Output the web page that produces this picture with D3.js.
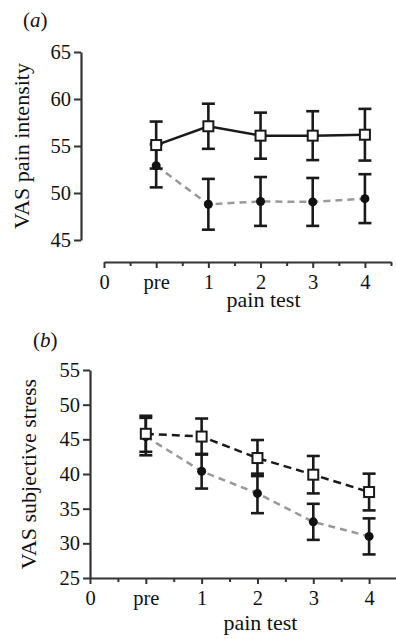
<!DOCTYPE html>
<html>
<head>
<meta charset="utf-8">
<script src="https://cdn.jsdelivr.net/npm/d3@7"></script>
<style>
  body { margin: 0; background: #fff; }
</style>
</head>
<body>
<script>
//Width and height
var w = 396;
var h = 639;
var serif = "'Liberation Serif', 'Times New Roman', Times, serif";

//Tick labels along the x axis (0, pre, then pain tests 1-4)
var xLabels = ["0", "pre", "1", "2", "3", "4"];
var xPos = [1, 2, 3, 4, 5];   // positions of pre,1,2,3,4 on the x scale

//Panel (a): VAS pain intensity
var aSquareMean = [55.1, 57.1, 56.1, 56.1, 56.2];
var aSquareErr  = [2.5, 2.4, 2.45, 2.6, 2.75];
var aCircleMean = [52.9, 48.8, 49.1, 49.05, 49.4];
var aCircleErr  = [2.3, 2.7, 2.6, 2.55, 2.6];
var aTicks = [45, 50, 55, 60, 65];

//Panel (b): VAS subjective stress
var bSquareMean = [45.8, 45.4, 42.3, 39.9, 37.4];
var bSquareErr  = [2.6, 2.6, 2.6, 2.7, 2.65];
var bCircleMean = [45.4, 40.4, 37.2, 33.1, 31.0];
var bCircleErr  = [2.7, 2.5, 2.85, 2.6, 2.6];
var bTicks = [25, 30, 35, 40, 45, 50, 55];

var svg = d3.select("body")
            .append("svg")
            .attr("width", w)
            .attr("height", h)
            .attr("font-family", serif);

function panel(opt) {
    var x = d3.scaleLinear().domain([0, 5.5]).range(opt.xRange);
    var y = d3.scaleLinear().domain(opt.yDomain).range(opt.yRange);
    var g = svg.append("g");

    //y axis
    var yAxis = d3.axisLeft(y).tickValues(opt.yTicks).tickSize(7).tickPadding(3).tickSizeOuter(0);
    var ya = g.append("g").attr("transform", "translate(" + opt.yAxisX + ",0)").call(yAxis)
              .attr("font-family", serif).attr("font-size", 20.5);
    ya.select(".domain").attr("stroke", "#333").attr("stroke-width", 2.2);
    ya.selectAll(".tick line").attr("stroke", "#333").attr("stroke-width", 2);
    ya.selectAll(".tick text").attr("fill", "#111");

    //x axis (major labelled ticks + minor ticks)
    var xAxis = d3.axisBottom(x).tickValues(d3.range(0, 6, 1)).tickSize(6).tickPadding(6).tickSizeOuter(0)
                  .tickFormat(function(d, i) { return xLabels[i]; });
    var xa = g.append("g").attr("transform", "translate(0," + opt.xAxisY + ")").call(xAxis)
              .attr("font-family", serif).attr("font-size", 20.5);
    xa.select(".domain").attr("stroke", "#333").attr("stroke-width", 2.2);
    xa.selectAll(".tick line").attr("stroke", "#333").attr("stroke-width", 2);
    xa.selectAll(".tick text").attr("fill", "#111");
    var xMinor = d3.axisBottom(x).tickValues(d3.range(0.5, 6, 1)).tickSize(4).tickFormat("");
    var xm = g.append("g").attr("transform", "translate(0," + opt.xAxisY + ")").call(xMinor);
    xm.select(".domain").remove();
    xm.selectAll(".tick line").attr("stroke", "#333").attr("stroke-width", 2);

    //axis titles
    g.append("text")
     .attr("transform", "translate(" + opt.yTitleX + "," + d3.mean(opt.yRange) + ") rotate(-90)")
     .attr("text-anchor", "middle")
     .attr("font-size", 22).attr("fill", "#111")
     .text(opt.yTitle);
    g.append("text")
     .attr("x", x(3) + 3).attr("y", opt.xTitleY)
     .attr("text-anchor", "middle")
     .attr("font-size", 22).attr("fill", "#111")
     .text("pain test");
    var lab = g.append("text").attr("x", opt.labelX).attr("y", opt.labelY)
               .attr("font-size", 21).attr("fill", "#111");
    lab.append("tspan").text("(");
    lab.append("tspan").attr("font-style", "italic").text(opt.label);
    lab.append("tspan").text(")");

    var circ = xPos.map(function(p, i) { return { x: p, m: opt.cMean[i], e: opt.cErr[i] }; });
    var sq = xPos.map(function(p, i) { return { x: p, m: opt.sMean[i], e: opt.sErr[i] }; });
    var line = d3.line().x(function(d) { return x(d.x); }).y(function(d) { return y(d.m); });

    //connecting lines
    g.append("path").datum(circ).attr("d", line)
     .attr("fill", "none").attr("stroke", "#999").attr("stroke-width", 2.5)
     .attr("stroke-dasharray", "7,5");
    g.append("path").datum(sq).attr("d", line)
     .attr("fill", "none").attr("stroke", "#1a1a1a").attr("stroke-width", 2.5)
     .attr("stroke-dasharray", opt.squareDash);

    //error bars
    function bars(data) {
        var eb = g.append("g").selectAll("g").data(data).enter().append("g")
                  .attr("stroke", "#1a1a1a").attr("stroke-width", 2.6);
        eb.append("line")
          .attr("x1", function(d) { return x(d.x); }).attr("x2", function(d) { return x(d.x); })
          .attr("y1", function(d) { return y(d.m + d.e); }).attr("y2", function(d) { return y(d.m - d.e); });
        eb.append("line")
          .attr("x1", function(d) { return x(d.x) - 6.5; }).attr("x2", function(d) { return x(d.x) + 6.5; })
          .attr("y1", function(d) { return y(d.m + d.e); }).attr("y2", function(d) { return y(d.m + d.e); });
        eb.append("line")
          .attr("x1", function(d) { return x(d.x) - 6.5; }).attr("x2", function(d) { return x(d.x) + 6.5; })
          .attr("y1", function(d) { return y(d.m - d.e); }).attr("y2", function(d) { return y(d.m - d.e); });
    }
    bars(circ);
    bars(sq);

    //markers
    g.append("g").selectAll("circle").data(circ).enter().append("circle")
     .attr("cx", function(d) { return x(d.x); })
     .attr("cy", function(d) { return y(d.m); })
     .attr("r", 4.5).attr("fill", "#111");
    g.append("g").selectAll("rect").data(sq).enter().append("rect")
     .attr("x", function(d) { return x(d.x) - 5; })
     .attr("y", function(d) { return y(d.m) - 5; })
     .attr("width", 10).attr("height", 10)
     .attr("fill", "#fff").attr("stroke", "#1a1a1a").attr("stroke-width", 2);
}

panel({
    xRange: [104, 391], yDomain: [45, 65], yRange: [240, 52], yTicks: aTicks,
    yAxisX: 81, xAxisY: 262, yTitleX: 29, xTitleY: 307, yTitle: "VAS pain intensity",
    label: "a", labelX: 23, labelY: 27,
    sMean: aSquareMean, sErr: aSquareErr, cMean: aCircleMean, cErr: aCircleErr,
    squareDash: null
});

panel({
    xRange: [90, 397], yDomain: [25, 55], yRange: [578, 370], yTicks: bTicks,
    yAxisX: 90, xAxisY: 578, yTitleX: 36, xTitleY: 630, yTitle: "VAS subjective stress",
    label: "b", labelX: 33, labelY: 347,
    sMean: bSquareMean, sErr: bSquareErr, cMean: bCircleMean, cErr: bCircleErr,
    squareDash: "8,5"
});
</script>
</body>
</html>
